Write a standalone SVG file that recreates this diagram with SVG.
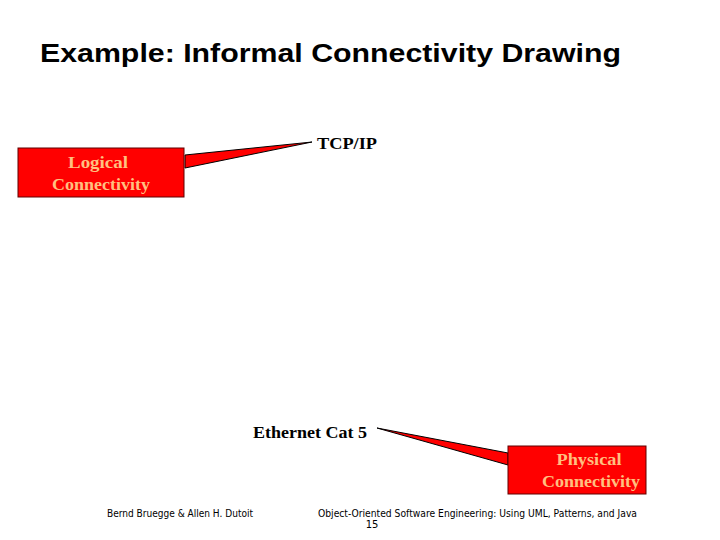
<svg xmlns="http://www.w3.org/2000/svg" width="720" height="540" viewBox="0 0 720 540">
<style>
.title{font-family:"URW Gothic","Liberation Sans",sans-serif;font-weight:bold;font-size:26px;fill:#000}
.lbl{font-family:"Liberation Serif",serif;font-weight:bold;font-size:17.5px;fill:#000}
.box{fill:#FF0000;stroke:#600000;stroke-width:1}
.boxtxt{font-family:"Liberation Serif",serif;font-weight:bold;font-size:17.5px;fill:#FFC080;text-anchor:middle}
.wedge{fill:#FF0000;stroke:#000;stroke-width:1;stroke-linejoin:miter}
.foot{font-family:"DejaVu Sans",sans-serif;font-size:10px;fill:#000}
</style>
<rect width="720" height="540" fill="#fff"/>
<text class="title" x="40" y="62" textLength="581" lengthAdjust="spacingAndGlyphs">Example: Informal Connectivity Drawing</text>
<g id="connectors">
<polygon class="wedge" points="185,155 312,142 185,168"/>
<polygon class="wedge" points="508,453 377,428 508,465"/>
</g>
<g id="tcpip">
<text class="lbl" x="317" y="149" textLength="60" lengthAdjust="spacingAndGlyphs">TCP/IP</text>
</g>
<g id="ethernet">
<text class="lbl" x="253" y="438" textLength="114" lengthAdjust="spacingAndGlyphs">Ethernet Cat 5</text>
</g>
<g id="logical">
<rect class="box" x="18" y="148" width="166" height="49"/>
<text class="boxtxt" x="98" y="168" textLength="60" lengthAdjust="spacingAndGlyphs">Logical</text>
<text class="boxtxt" x="101" y="190" textLength="98" lengthAdjust="spacingAndGlyphs">Connectivity</text>
</g>
<g id="physical">
<rect class="box" x="508" y="446" width="138" height="48"/>
<text class="boxtxt" x="589" y="465" textLength="65" lengthAdjust="spacingAndGlyphs">Physical</text>
<text class="boxtxt" x="591" y="487" textLength="98" lengthAdjust="spacingAndGlyphs">Connectivity</text>
</g>
<text class="foot" x="107" y="517" textLength="146" lengthAdjust="spacingAndGlyphs">Bernd Bruegge &amp; Allen H. Dutoit</text>
<text class="foot" x="318" y="517" textLength="319" lengthAdjust="spacingAndGlyphs">Object-Oriented Software Engineering: Using UML, Patterns, and Java</text>
<text class="foot" x="372" y="528" text-anchor="middle">15</text>
</svg>
